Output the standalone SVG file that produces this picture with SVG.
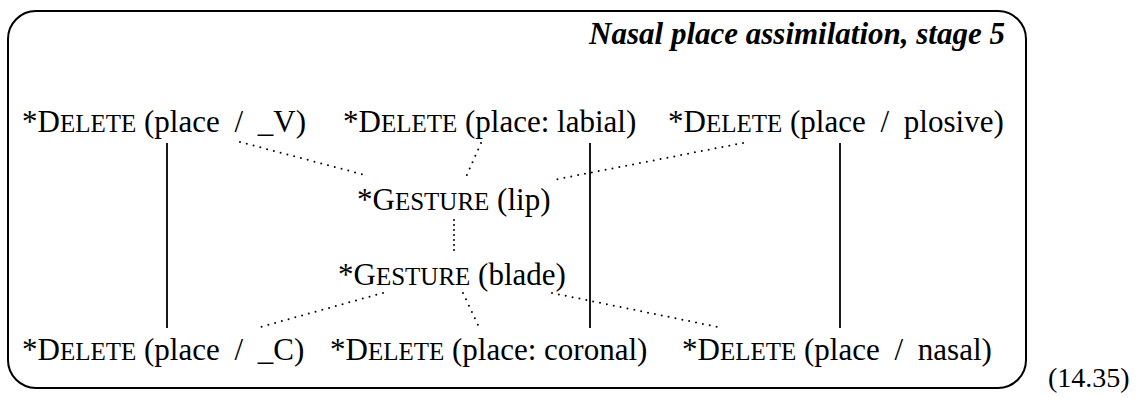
<svg xmlns="http://www.w3.org/2000/svg" width="1143" height="398" viewBox="0 0 1143 398">
<style>
.solid{stroke:#000;stroke-width:1.8;fill:none}
.dot{stroke:#000;stroke-width:2;stroke-linecap:round;stroke-dasharray:0 7;fill:none}
.dotv{stroke-dasharray:0 5}
</style>
<rect x="8" y="11" width="1018" height="377" rx="28" ry="28" fill="none" stroke="#000" stroke-width="2"/>
<text font-family="Liberation Serif" font-size="31" font-weight="bold" font-style="italic" x="1005" y="44" text-anchor="end">Nasal place assimilation, stage 5</text>
<g id="connectors">
<line class="solid" x1="167" y1="143" x2="167" y2="328"/>
<line class="solid" x1="590" y1="143" x2="590" y2="328"/>
<line class="solid" x1="840" y1="143" x2="840" y2="328"/>
<line class="dot" x1="240" y1="142" x2="365" y2="175"/>
<line class="dot" x1="481" y1="143" x2="466" y2="177"/>
<line class="dot" x1="743" y1="143" x2="553" y2="180"/>
<line class="dot dotv" x1="454" y1="220" x2="454" y2="252"/>
<line class="dot" x1="383" y1="293" x2="257" y2="328"/>
<line class="dot" x1="463" y1="293" x2="478" y2="325"/>
<line class="dot" x1="552" y1="293" x2="723" y2="328"/>
</g>
<g id="n-del-v"><text font-family="Liberation Serif" font-size="31" x="22" y="132">*D<tspan font-size="25">ELETE</tspan> (place <tspan dx="7">/</tspan><tspan dx="7"> _V)</tspan></text></g>
<g id="n-del-labial"><text font-family="Liberation Serif" font-size="31" x="343" y="132">*D<tspan font-size="25">ELETE</tspan> (place: labial)</text></g>
<g id="n-del-plosive"><text font-family="Liberation Serif" font-size="31" x="668" y="132">*D<tspan font-size="25">ELETE</tspan> (place <tspan dx="7">/</tspan><tspan dx="7"> plosive)</tspan></text></g>
<g id="n-gest-lip"><text font-family="Liberation Serif" font-size="31" x="357" y="210">*G<tspan font-size="25">ESTURE</tspan> (lip)</text></g>
<g id="n-gest-blade"><text font-family="Liberation Serif" font-size="31" x="338" y="285">*G<tspan font-size="25">ESTURE</tspan> (blade)</text></g>
<g id="n-del-c"><text font-family="Liberation Serif" font-size="31" x="22" y="360">*D<tspan font-size="25">ELETE</tspan> (place <tspan dx="7">/</tspan><tspan dx="7"> _C)</tspan></text></g>
<g id="n-del-coronal"><text font-family="Liberation Serif" font-size="31" x="330" y="360">*D<tspan font-size="25">ELETE</tspan> (place: coronal)</text></g>
<g id="n-del-nasal"><text font-family="Liberation Serif" font-size="31" x="682" y="360">*D<tspan font-size="25">ELETE</tspan> (place <tspan dx="7">/</tspan><tspan dx="7"> nasal)</tspan></text></g>
<text font-family="Liberation Serif" font-size="28" x="1048" y="387">(14.35)</text>
</svg>
